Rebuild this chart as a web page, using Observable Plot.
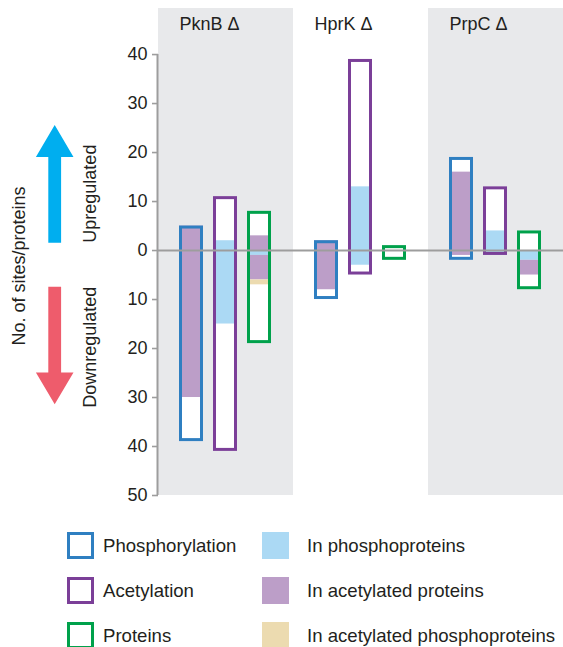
<!DOCTYPE html>
<html><head><meta charset="utf-8">
<script src="https://cdn.jsdelivr.net/npm/d3@7"></script>
<script src="https://cdn.jsdelivr.net/npm/@observablehq/plot@0.6"></script>
<style>
body{margin:0;background:#fff;font-family:"Liberation Sans",Arial,Helvetica,sans-serif;color:#231f20;width:563px;height:647px;overflow:hidden}
#legend{position:relative;height:137px}
.item{position:absolute;display:flex;align-items:center;font-size:18.6px;height:27px}
.sw{width:27px;height:27px;box-sizing:border-box;margin-right:9px;flex:none}
</style></head><body>
<div id="chart"></div>
<div id="legend"></div>
<script>
const panels = ["PknB Δ", "HprK Δ", "PrpC Δ"];
const shadedPanels = ["PknB Δ", "PrpC Δ"];
const types = ["Phosphorylation", "Acetylation", "Proteins"];
const typeColors = ["#2f7fc1", "#7b3f98", "#00a14b"];
// per panel: [Phosphorylation, Acetylation, Proteins]
const boxTop = [[5, 11, 8], [2, 39, 1], [19, 13, 4]];
const boxBottom = [[-39, -41, -19], [-10, -5, -2], [-2, -1, -8]];
const subsets = ["In phosphoproteins", "In acetylated proteins", "In acetylated phosphoproteins"];
const subsetColors = ["#abd9f4", "#bc9ec8", "#ecdbb0"];
// [panel, bar, subset, from, to]
const segments = [
  ["PknB Δ", "Phosphorylation", "In acetylated proteins", 5, -30],
  ["PknB Δ", "Acetylation", "In phosphoproteins", 2, -15],
  ["PknB Δ", "Proteins", "In acetylated proteins", 3, 0],
  ["PknB Δ", "Proteins", "In phosphoproteins", 0, -1],
  ["PknB Δ", "Proteins", "In acetylated proteins", -1, -6],
  ["PknB Δ", "Proteins", "In acetylated phosphoproteins", -6, -7],
  ["HprK Δ", "Phosphorylation", "In acetylated proteins", 2, -8],
  ["HprK Δ", "Acetylation", "In phosphoproteins", 13, -3],
  ["PrpC Δ", "Phosphorylation", "In acetylated proteins", 16, -1],
  ["PrpC Δ", "Acetylation", "In phosphoproteins", 4, -1],
  ["PrpC Δ", "Proteins", "In phosphoproteins", 0, -2],
  ["PrpC Δ", "Proteins", "In acetylated proteins", -2, -5]
];
const yTicks = [-50, -40, -30, -20, -10, 0, 10, 20, 30, 40];
const upArrow = {tail: 1.5, base: 19, tip: 25.5};
const downArrow = {tail: -7.5, base: -25, tip: -31.5};

const boxes = [];
panels.forEach((p, i) => types.forEach((t, j) => boxes.push({panel: p, type: t, top: boxTop[i][j], bottom: boxBottom[i][j]})));
const segs = segments.map(([panel, type, subset, from, to]) => ({panel, type, subset, from, to}));

const font = '"Liberation Sans", Arial, Helvetica, sans-serif';
const plot = Plot.plot({
  width: 563, height: 510,
  marginLeft: 158, marginRight: 0, marginTop: 8, marginBottom: 15,
  style: {fontFamily: font, fontSize: "18px", color: "#231f20", background: "transparent"},
  fx: {domain: panels, padding: 0, axis: null},
  x: {domain: types, paddingInner: 0.294, paddingOuter: 0.632, axis: null},
  y: {domain: [-50, 49.4], axis: null},
  color: {domain: [...types, ...subsets], range: [...typeColors, ...subsetColors]},
  marks: [
    Plot.rect(shadedPanels, {fx: d => d, fill: "#e8e9eb"}),
    Plot.barY(boxes, {fx: "panel", x: "type", y1: "bottom", y2: "top", fill: "white"}),
    Plot.barY(segs, {fx: "panel", x: "type", y1: "from", y2: "to", fill: "subset"}),
    Plot.barY(boxes, {fx: "panel", x: "type", y1: "bottom", y2: "top", fill: "none", stroke: "type", strokeWidth: 3, inset: 1.5}),
    Plot.ruleY([0], {stroke: "#9d9d9d", strokeWidth: 2}),
    Plot.axisY({ticks: yTicks, tickFormat: d => Math.abs(d), tickSize: 6, tickPadding: 5, stroke: "#9d9d9d", strokeWidth: 1.6, fontSize: 18, label: null}),
    Plot.text(panels, {fx: d => d, x: () => types[0], text: d => d, frameAnchor: "top", textAnchor: "start", lineAnchor: "top", dx: -12, dy: 8.5, fontSize: 18, fill: "#231f20"})
  ]
});
document.getElementById("chart").appendChild(plot);

const y = plot.scale("y");
const svg = d3.select(plot);
svg.append("line").attr("x1", 157.5).attr("x2", 157.5).attr("y1", y.apply(40)).attr("y2", y.apply(-50))
  .attr("stroke", "#9d9d9d").attr("stroke-width", 2);
function arrow(a, color) {
  const cx = 54.7, sw = 6.4, hw = 18.8;
  const t = y.apply(a.tail), b = y.apply(a.base), p = y.apply(a.tip);
  svg.append("polygon").attr("fill", color).attr("points",
    [[cx - sw, t], [cx - sw, b], [cx - hw, b], [cx, p], [cx + hw, b], [cx + sw, b], [cx + sw, t]].map(d => d.join(",")).join(" "));
}
arrow(upArrow, "#00aeef");
arrow(downArrow, "#ee5c6c");
const lab = (text, x, yy, anchor) => svg.append("text").attr("transform", `translate(${x},${yy}) rotate(-90)`)
  .attr("text-anchor", anchor).attr("font-size", 18).attr("font-family", font).attr("fill", "#231f20").text(text);
lab("Upregulated", 96, y.apply(upArrow.tail), "start");
lab("Downregulated", 96, y.apply(downArrow.tail), "end");
lab("No. of sites/proteins", 25, 266, "middle");

const legend = document.getElementById("legend");
types.forEach((t, i) => {
  const d = document.createElement("div");
  d.className = "item"; d.style.left = "67px"; d.style.top = (22 + 45 * i) + "px";
  d.innerHTML = `<div class="sw" style="border:3px solid ${typeColors[i]};background:#fff"></div><span>${t}</span>`;
  legend.appendChild(d);
});
subsets.forEach((t, i) => {
  const d = document.createElement("div");
  d.className = "item"; d.style.left = "262px"; d.style.top = (22 + 45 * i) + "px";
  d.innerHTML = `<div class="sw" style="background:${subsetColors[i]};margin-right:18px"></div><span>${t}</span>`;
  legend.appendChild(d);
});
</script>
</body></html>
